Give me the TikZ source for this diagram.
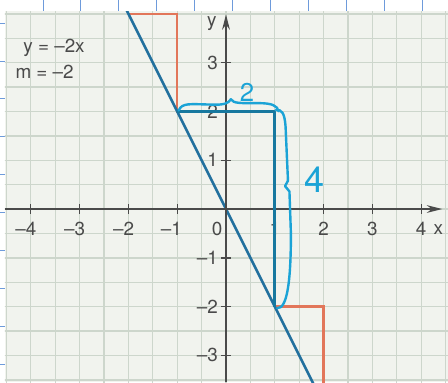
\documentclass[tikz,border=0pt]{standalone}
\usepackage{fontspec}
\setmainfont{TeX Gyre Heros}
\usetikzlibrary{arrows.meta}

\definecolor{paper}{HTML}{F1F3EE}
\definecolor{gridc}{HTML}{CDD6CC}
\definecolor{lineb}{HTML}{22709E}
\definecolor{stepr}{HTML}{E2765A}
\definecolor{pen}{HTML}{1BA3D6}
\definecolor{pendark}{HTML}{17789F}
\definecolor{note}{HTML}{6E9BDB}
\definecolor{axisc}{HTML}{4A4A4A}

\tikzset{
  axis/.style={axisc, line width=0.9pt, -{Stealth[length=9pt, width=4.5pt]}},
  ticklabel/.style={axisc, inner sep=0pt},
  hand/.style={pen, line width=1.4pt, line cap=round, line join=round},
}

\begin{document}
\begin{tikzpicture}[x=1cm, y=1cm, font=\fontsize{11}{13}\selectfont]
  \useasboundingbox (-4.631,-3.545) rectangle (4.549,4.283);
  \fill[white] (-4.631,-3.545) rectangle (4.549,4.283);

  % Heftrand
  \foreach \k in {0,...,10}
    \draw[note, line width=0.5pt] ({-3.75+0.777*\k},4.057) -- ({-3.75+0.777*\k},4.283);
  \foreach \k in {0,...,9}
    \draw[note, line width=0.5pt] (-4.631,{3.81-0.777*\k}) -- (-4.529,{3.81-0.777*\k});

  \coordinate (O) at (0, 0);
  \coordinate (P) at (-1, 2);
  \coordinate (Q) at (1, 2);
  \coordinate (R) at (1, -2);

  \begin{scope}
    \clip (-4.529,-3.545) rectangle (4.549,4.057);
    \fill[paper] (-4.529,-3.545) rectangle (4.549,4.057);
    \draw[gridc, line width=0.8pt, step=0.5] (-5,-4) grid (5,4.5);
    % Stufen
    \draw[stepr, line width=1.4pt] (-2,4) -- (-1,4) -- (P) -- (0,2) -- (O) -- (1,0) -- (R) -- (2,-2) -- (2,-4);
    % y = -2x
    \draw[lineb, line width=1.5pt] (-2.2,4.4) -- (1.9,-3.8);
  \end{scope}

  % Achsen
  \draw[axis] (-4.529,0) -- (4.43,0);
  \draw[axis] (0,-3.545) -- (0,3.99);
  \foreach \x in {-4,...,-1,1,2,3,4}
    \draw[axisc, line width=0.8pt] (\x,-0.1) -- (\x,0.1);
  \foreach \y in {-3,...,-1,1,2,3}
    \draw[axisc, line width=0.8pt] (-0.1,\y) -- (0.1,\y);

  \node[ticklabel] (xm4) at (-4.1,-0.41) {–4};
  \node[ticklabel] (xm3) at (-3.1,-0.41) {–3};
  \node[ticklabel] (xm2) at (-2.1,-0.41) {–2};
  \node[ticklabel] (xm1) at (-1.12,-0.41) {–1};
  \node[ticklabel] (x0) at (-0.18,-0.41) {0};
  \node[ticklabel] (x1) at (1,-0.41) {1};
  \node[ticklabel] (x2) at (2,-0.41) {2};
  \node[ticklabel] (x3) at (3,-0.41) {3};
  \node[ticklabel] (x4) at (4,-0.41) {4};
  \node[ticklabel] (xl) at (4.35,-0.43) {x};
  \node[ticklabel, anchor=east] (y3) at (-0.16,3) {3};
  \node[ticklabel, anchor=east] (y2) at (-0.16,2) {2};
  \node[ticklabel, anchor=east] (y1) at (-0.16,1) {1};
  \node[ticklabel, anchor=east] (ym1) at (-0.16,-1) {–1};
  \node[ticklabel, anchor=east] (ym2) at (-0.16,-2) {–2};
  \node[ticklabel, anchor=east] (ym3) at (-0.16,-3) {–3};
  \node[ticklabel] (yl) at (-0.29,3.79) {y};

  \node[ticklabel, anchor=west] (fx) at (-4.16,3.30) {y = –2x};
  \node[ticklabel, anchor=west] (mx) at (-4.32,2.81) {m = –2};

  % Steigungsdreieck (handschriftlich)
  \draw[pendark, line width=1.8pt, line join=round] (P) -- (Q) -- (R);
  \draw[hand] (-0.97,2.02) .. controls (-0.9,2.18) and (-0.75,2.15) .. (-0.3,2.14)
    .. controls (-0.05,2.13) and (0.05,2.16) .. (0.1,2.25)
    .. controls (0.15,2.16) and (0.3,2.17) .. (0.65,2.17)
    .. controls (0.95,2.17) and (1.05,2.12) .. (1.08,2.0);
  \draw[hand] (1.02,2.03) .. controls (1.15,2.05) and (1.2,1.95) .. (1.22,1.7)
    -- (1.27,0.58) -- (1.21,0.47) -- (1.3,0.36)
    -- (1.33,-0.5) .. controls (1.33,-1.5) and (1.25,-2.05) .. (1.05,-2.03);
  \node[pen, font=\fontsize{15}{17}\selectfont] (dx) at (0.43,2.38) {2};
  \node[pen, font=\fontsize{21}{24}\selectfont] (dy) at (1.82,0.6) {4};
\end{tikzpicture}
\end{document}
